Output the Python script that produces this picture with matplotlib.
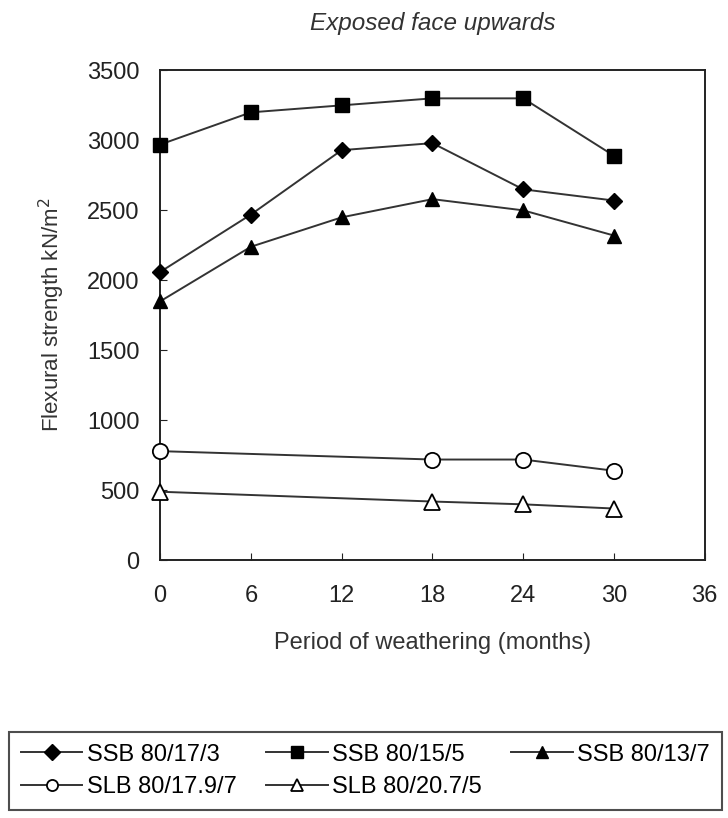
import matplotlib.pyplot as plt

plt.rcParams['font.family'] = ['Liberation Sans', 'DejaVu Sans']

months = [0, 6, 12, 18, 24, 30]
months_slb = [0, 18, 24, 30]

ssb_17_3 = [2060, 2470, 2930, 2980, 2650, 2570]
ssb_15_5 = [2970, 3200, 3250, 3300, 3300, 2890]
ssb_13_7 = [1850, 2240, 2450, 2580, 2500, 2320]
slb_17_9_7 = [780, 720, 720, 640]
slb_20_7_5 = [490, 420, 400, 370]

fig = plt.figure(figsize=(7.28, 8.18), dpi=100)
ax = fig.add_axes([0.22, 0.315, 0.748, 0.599])

lc = '#333333'
kw = dict(color=lc, lw=1.4, clip_on=False, zorder=3)
h1, = ax.plot(months, ssb_17_3, marker='D', ms=8, mfc='black', mec='black', label='SSB 80/17/3', **kw)
h2, = ax.plot(months, ssb_15_5, marker='s', ms=10, mfc='black', mec='black', label='SSB 80/15/5', **kw)
h3, = ax.plot(months, ssb_13_7, marker='^', ms=10, mfc='black', mec='black', label='SSB 80/13/7', **kw)
h4, = ax.plot(months_slb, slb_17_9_7, marker='o', ms=11, mfc='white', mec='black', mew=1.3, label='SLB 80/17.9/7', **kw)
h5, = ax.plot(months_slb, slb_20_7_5, marker='^', ms=11, mfc='white', mec='black', mew=1.3, label='SLB 80/20.7/5', **kw)

ax.set_xlim(0, 36)
ax.set_ylim(0, 3500)
ax.set_xticks(range(0, 37, 6))
ax.set_yticks(range(0, 3501, 500))
ax.tick_params(direction='in', labelsize=17, length=5, colors='#222222')
ax.tick_params(axis='x', pad=18)
ax.tick_params(axis='y', pad=15)
for s in ax.spines.values():
    s.set_linewidth(1.4)
    s.set_color('#222222')

ax.set_xlabel('Period of weathering (months)', fontsize=17, labelpad=18, color='#333333')
ax.set_ylabel('Flexural strength kN/m$^2$', fontsize=16, labelpad=14, color='#333333')
fig.text(0.595, 0.971, 'Exposed face upwards', fontsize=17.5, style='italic', ha='center', va='center', color='#333333')

handles = [h1, h4, h2, h5, h3]
leg = fig.legend(handles, [h.get_label() for h in handles], loc='lower left',
                 bbox_to_anchor=(9 / 728, 8 / 818, 713 / 728, 78 / 818), mode='expand',
                 ncol=3, fontsize=17, frameon=True, fancybox=False, edgecolor='#222222',
                 handlelength=2.6, handletextpad=0.2, columnspacing=0.5, borderpad=0.5,
                 labelspacing=0.45, borderaxespad=0)
leg.get_frame().set_linewidth(1.5)
for h in leg.legend_handles:
    h.set_markersize(8)

fig.savefig('out.png', dpi=100)
